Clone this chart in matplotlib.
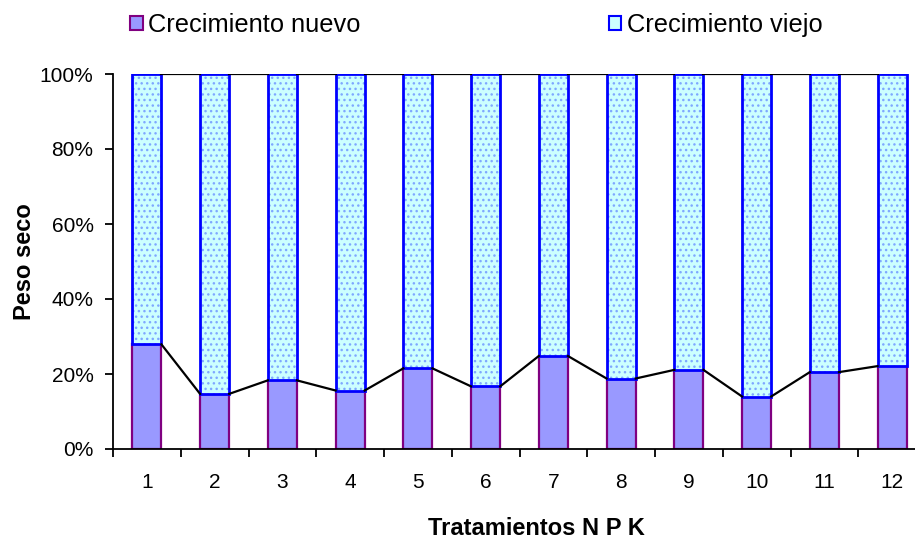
import numpy as np
import matplotlib
matplotlib.use("Agg")
import matplotlib.pyplot as plt
from matplotlib.patches import Patch
from matplotlib.ticker import FixedLocator, FuncFormatter

plt.rcParams['font.family'] = ['Liberation Sans', 'DejaVu Sans']
plt.rcParams['hatch.linewidth'] = 1.0

# Treatments and dry-weight share (%) of new growth; old growth is the remainder
tratamientos = ['1', '2', '3', '4', '5', '6', '7', '8', '9', '10', '11', '12']
crecimiento_nuevo = [27.9, 14.7, 18.3, 15.6, 21.5, 16.7, 24.8, 18.8, 21.1, 14.0, 20.5, 22.1]
crecimiento_viejo = [100 - v for v in crecimiento_nuevo]
y_ticks = [0, 20, 40, 60, 80, 100]

W, H = 915, 542
fig = plt.figure(figsize=(W / 100, H / 100), dpi=100)
# plot area runs slightly past the right edge of the canvas
left, right, top, bottom = 113, 926, 74, 449
ax = fig.add_axes([left / W, 1 - bottom / H, (right - left) / W, (bottom - top) / H])

x = np.arange(len(tratamientos))
w = 0.43

# lower segment
ax.bar(x, crecimiento_nuevo, w, color='#9999FF', edgecolor='#800080', linewidth=1.6, zorder=2)
# upper segment: dotted fill, then blue outline on top
ax.bar(x, crecimiento_viejo, w, bottom=crecimiento_nuevo, color='#CCFFFF',
       edgecolor='#7FA8FF', hatch='...', linewidth=0, zorder=2)
ax.bar(x, crecimiento_viejo, w, bottom=crecimiento_nuevo, fill=False,
       edgecolor='#0000FF', linewidth=2.0, zorder=3)

# series lines joining adjacent bar segments
tops_nuevo = np.array(crecimiento_nuevo)
tops_total = tops_nuevo + np.array(crecimiento_viejo)
for i in range(len(x) - 1):
    xs = [x[i] + w / 2, x[i + 1] - w / 2]
    ax.plot(xs, [tops_nuevo[i], tops_nuevo[i + 1]], color='black', lw=1.6, zorder=4)
    ax.plot(xs, [tops_total[i], tops_total[i + 1]], color='black', lw=1.6, zorder=4)

ax.set_xlim(-0.5, len(x) - 0.5)
ax.set_ylim(0, 100)

ax.spines['top'].set_visible(False)
ax.spines['right'].set_visible(False)
for s in ('left', 'bottom'):
    ax.spines[s].set_linewidth(1.3)
    ax.spines[s].set_color('black')

ax.yaxis.set_major_locator(FixedLocator(y_ticks))
ax.yaxis.set_major_formatter(FuncFormatter(lambda v, p: f"{v:.0f}%"))
ax.tick_params(axis='y', direction='out', length=6, width=1.3, labelsize=15, pad=8)

ax.xaxis.set_major_locator(FixedLocator(np.arange(-0.5, len(x), 1.0)))
ax.xaxis.set_major_formatter(FuncFormatter(lambda v, p: ''))
ax.xaxis.set_minor_locator(FixedLocator(x))
ax.set_xticklabels(tratamientos, minor=True)
ax.tick_params(axis='x', which='major', direction='out', length=6, width=1.3)
ax.tick_params(axis='x', which='minor', length=0, labelsize=15, pad=17)

ax.set_ylabel('Peso seco', fontsize=17, fontweight='bold', labelpad=3)
ax.set_xlabel('Tratamientos N P K', fontsize=17, fontweight='bold')
ax.xaxis.set_label_coords((536 - left) / (right - left), -(517 - bottom) / (bottom - top))

handles = [
    Patch(facecolor='#9999FF', edgecolor='#800080', linewidth=1.5),
    Patch(facecolor='#CCFFFF', edgecolor='#0000FF', linewidth=1.5),
]
fig.legend(handles, ['Crecimiento nuevo', 'Crecimiento viejo'], ncol=2,
           loc='upper left', bbox_to_anchor=(112 / W, 1 + 5 / H),
           frameon=False, fontsize=18.3, handlelength=0.5, handleheight=0.5,
           handletextpad=0.22, columnspacing=9.76, borderpad=0.2)

fig.savefig('out.png', dpi=100)
